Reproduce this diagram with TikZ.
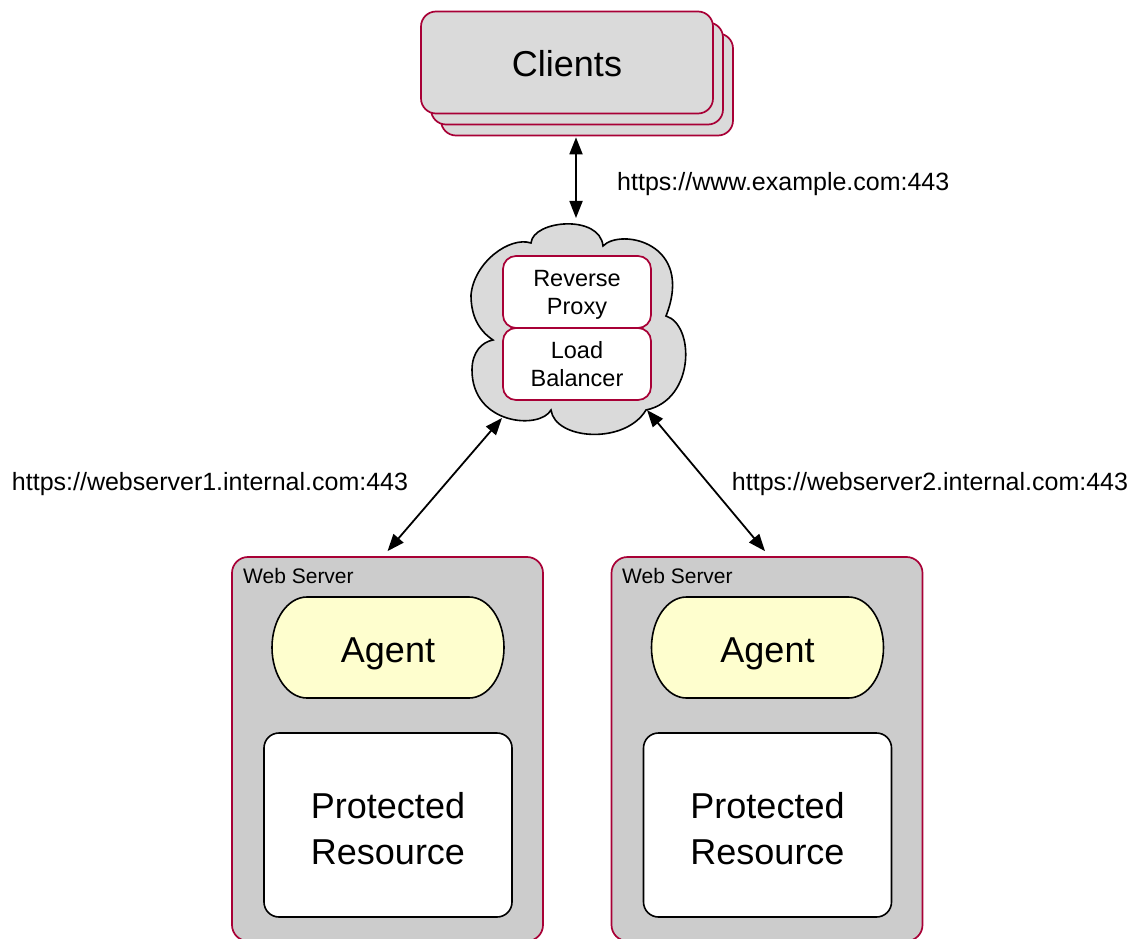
\documentclass[tikz,border=0pt]{standalone}
\usepackage{fontspec}
\setmainfont{Liberation Sans}
\usetikzlibrary{arrows.meta}
\definecolor{pborder}{HTML}{A80036}
\definecolor{pyellow}{HTML}{FEFECE}
\definecolor{cgray}{HTML}{DADADA}
\definecolor{wgray}{HTML}{CCCCCC}
\newcommand{\agentshape}[2]{%
  \path[draw=black, fill=pyellow, line width=1.6pt]
    ({#1-81},{#2-50.5}) -- ({#1+81},{#2-50.5})
    arc[start angle=90, end angle=-90, x radius=35pt, y radius=50.5pt]
    -- ({#1-81},{#2+50.5})
    arc[start angle=270, end angle=90, x radius=35pt, y radius=50.5pt] -- cycle;}
\begin{document}
\begin{tikzpicture}[x=1pt,y=-1pt,
 clientbox/.style={draw=pborder, fill=cgray, line width=1.7pt, rounded corners=15pt, minimum width=292pt, minimum height=102pt, inner sep=0pt, text height=28pt, text depth=0pt, font=\fontsize{36}{43}\selectfont},
 innerbox/.style={draw=pborder, fill=white, line width=1.7pt, rounded corners=13pt, minimum width=148pt, minimum height=72pt, inner sep=0pt, align=center, text depth=0pt, font=\fontsize{23.5}{28}\selectfont},
 serverbox/.style={draw=pborder, fill=wgray, line width=1.7pt, rounded corners=16pt, minimum width=311pt, minimum height=384pt, inner sep=0pt},
 agentbox/.style={minimum width=232pt, minimum height=101pt, inner sep=0pt, text height=30pt, text depth=0pt, font=\fontsize{36}{43}\selectfont},
 resbox/.style={draw=black, fill=white, line width=1.6pt, rounded corners=15pt, minimum width=248pt, minimum height=184pt, inner sep=0pt, align=center, text height=78pt, text depth=0pt, font=\fontsize{36}{46}\selectfont},
 lbl/.style={font=\fontsize{25}{30}\selectfont, inner sep=0pt},
 wslbl/.style={font=\fontsize{21}{25}\selectfont, inner sep=0pt, anchor=base west},
 link/.style={line width=1.8pt, {Triangle[length=17pt,width=13pt]}-{Triangle[length=17pt,width=13pt]}},
]
\useasboundingbox (0,0) rectangle (1136,939);

% Clients stack
\node[clientbox] (clients3) at (587,84.5) {};
\node[clientbox] (clients2) at (577,73.5) {};
\node[clientbox] (clients1) at (567,62.5) {Clients};

% Cloud
\draw[fill=cgray, line width=1.6pt] (531,243) .. controls (533,220) and (600,214) .. (603,246)
 .. controls (620,228) and (695,242) .. (666,316)
 .. controls (695,325) and (695,400) .. (646,410)
 .. controls (625,445) and (555,440) .. (551,410)
 .. controls (540,430) and (472,425) .. (472,370)
 .. controls (472,352) and (482,342) .. (493,340)
 .. controls (478,330) and (471,315) .. (471,295)
 .. controls (474,262) and (510,236) .. (531,243) -- cycle;
\coordinate (cloudN) at (576,218);
\coordinate (cloudSW) at (502,418);
\coordinate (cloudSE) at (647,410);

\node[innerbox] (proxy) at (577,292) {Reverse\\Proxy};
\node[innerbox] (lb) at (577,364) {Load\\Balancer};

% Web servers
\node[serverbox] (ws1) at (387.5,749) {};
\node[serverbox] (ws2) at (767,749) {};
\node[wslbl] (ws1lbl) at (243,583) {Web Server};
\node[wslbl] (ws2lbl) at (622,583) {Web Server};

\agentshape{388}{647.5}
\node[agentbox] (agent1) at (388,647.5) {Agent};
\agentshape{767.5}{647.5}
\node[agentbox] (agent2) at (767.5,647.5) {Agent};

\node[resbox] (res1) at (388,825) {Protected\\Resource};
\node[resbox] (res2) at (767.5,825) {Protected\\Resource};

% Connectors
\draw[link] ([yshift=-1pt]clients3.south -| cloudN) -- (cloudN);
\draw[link] (cloudSW) -- ([yshift=5pt]ws1.north);
\draw[link] (cloudSE) -- ([xshift=-2pt,yshift=5pt]ws2.north);

% Labels
\node[lbl, anchor=base west] (urlc) at (617,190) {https://www.example.com:443};
\node[lbl, anchor=base] (url1) at (210,490) {https://webserver1.internal.com:443};
\node[lbl, anchor=base] (url2) at (930,490) {https://webserver2.internal.com:443};
\end{tikzpicture}
\end{document}
